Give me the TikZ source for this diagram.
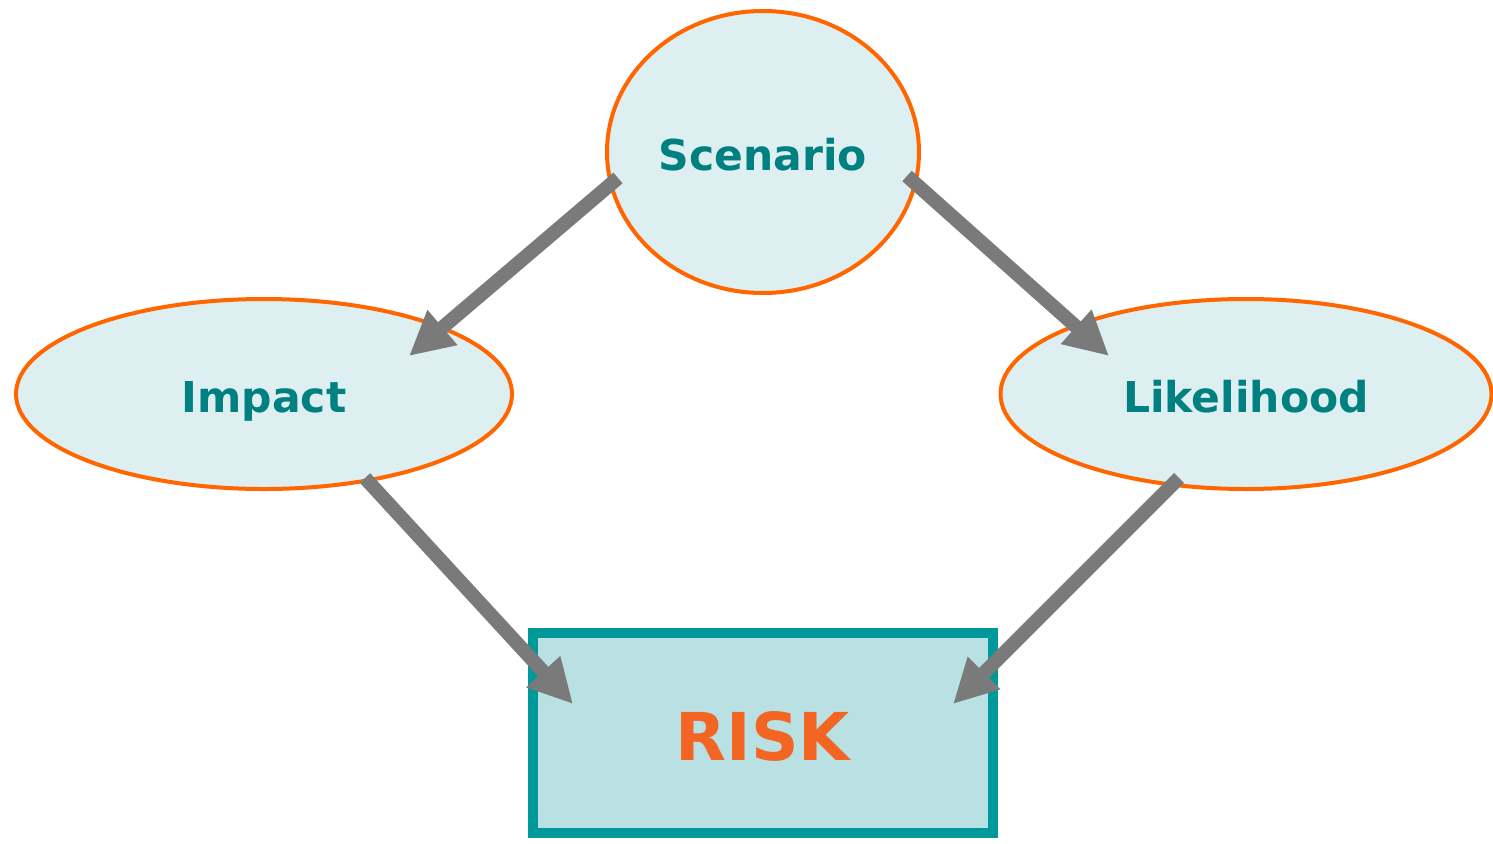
\documentclass[tikz,border=0pt]{standalone}
\usepackage{fontspec}
\setmainfont{DejaVu Sans}
\usetikzlibrary{arrows.meta,shapes.geometric}

\definecolor{orangeline}{HTML}{FF6600}
\definecolor{palefill}{HTML}{DDEFF0}
\definecolor{boxfill}{HTML}{B9E0E2}
\definecolor{tealline}{HTML}{009999}
\definecolor{tealtext}{HTML}{008080}
\definecolor{risktext}{HTML}{F26522}
\definecolor{arrowgray}{HTML}{7A7A7A}

\tikzset{
    factor/.style={ellipse, draw=orangeline, fill=palefill, line width=4pt, inner sep=0pt,
        text height=36pt, text depth=0pt,
        text=tealtext, font=\fontsize{42.5}{50}\selectfont\bfseries},
    result/.style={rectangle, draw=tealline, fill=boxfill, line width=10pt, inner sep=0pt,
        minimum width=460pt, minimum height=200pt, text height=54pt, text depth=0pt,
        text=risktext, font=\fontsize{66}{78}\selectfont\bfseries},
    link/.style={draw=arrowgray, line width=14pt, -{Triangle[length=44pt,width=43pt]}}
}

\begin{document}
\begin{tikzpicture}[x=1pt, y=-1pt] %risk
            \useasboundingbox (0,0) rectangle (1493,843);

            \node[factor, minimum width=312pt, minimum height=282pt] (scenario) at (763,152) {Scenario};
            \node[factor, minimum width=496pt, minimum height=190pt] (impact) at (264,394) {Impact};
            \node[factor, minimum width=491pt, minimum height=190pt] (likelihood) at (1246,394) {Likelihood};
            \node[result] (risk) at (763,733) {RISK};

            \coordinate (scenario-l) at (618,178);
            \coordinate (scenario-r) at (907,176);
            \coordinate (impact-in) at (409,356);
            \coordinate (likelihood-in) at (1109,356);
            \coordinate (impact-out) at (365,478);
            \coordinate (likelihood-out) at (1179,478);
            \coordinate (risk-l) at (573,704);
            \coordinate (risk-r) at (953,704);

            \draw[link] (scenario-l) -- (impact-in);
            \draw[link] (scenario-r) -- (likelihood-in);
            \draw[link] (impact-out) -- (risk-l);
            \draw[link] (likelihood-out) -- (risk-r);
\end{tikzpicture}
\end{document}
